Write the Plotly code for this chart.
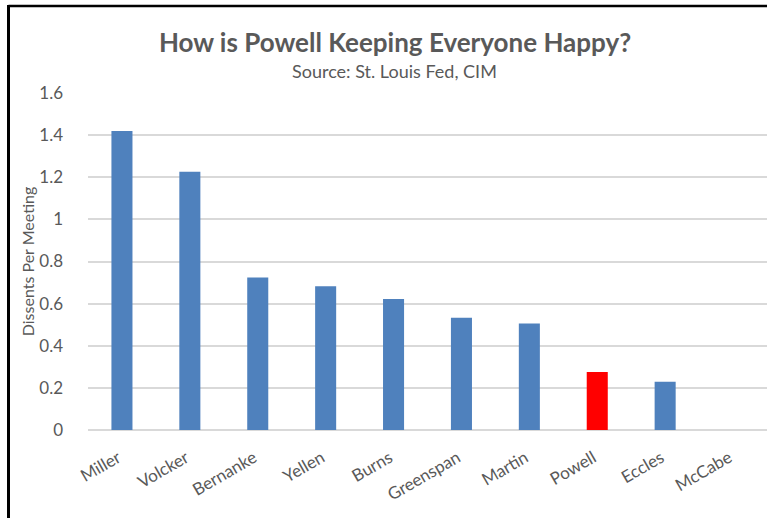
import plotly.graph_objects as go

chairs = ["Miller", "Volcker", "Bernanke", "Yellen", "Burns", "Greenspan",
          "Martin", "Powell", "Eccles", "McCabe"]
dissents = [1.42, 1.226, 0.724, 0.683, 0.622, 0.533, 0.506, 0.275, 0.229, 0.0]
highlight = "Powell"
y_ticks = [0, 0.2, 0.4, 0.6, 0.8, 1, 1.2, 1.4, 1.6]
y_tick_text = ["0", "0.2", "0.4", "0.6", "0.8", "1", "1.2", "1.4", "1.6"]

BLUE = "#4F81BD"
RED = "#FF0000"
GRAY = "#595959"
FONT = "Lato"

colors = [RED if c == highlight else BLUE for c in chairs]

W, H = 767, 518
ML, MR, MT, MB = 88, 0, 93, 88
pw = W - ML - MR
ph = H - MT - MB

def px_x(x):
    return (x - ML) / pw

def px_y(y):
    return (H - MB - y) / ph

fig = go.Figure(go.Bar(
    x=chairs, y=dissents,
    marker=dict(color=colors, line=dict(width=0)),
    width=0.31,
))

fig.update_layout(
    width=W, height=H,
    margin=dict(l=ML, r=MR, t=MT, b=MB),
    paper_bgcolor="white", plot_bgcolor="white",
    showlegend=False,
    font=dict(family=FONT, color=GRAY),
    title=dict(
        text="<b>How is Powell Keeping Everyone Happy?</b>",
        x=px_x(395), xref="paper", xanchor="center",
        y=1 - 43 / H, yref="container", yanchor="middle",
        font=dict(family=FONT, size=26, color=GRAY),
    ),
    annotations=[dict(
        text="Source: St. Louis Fed, CIM",
        xref="paper", yref="paper",
        x=px_x(394), y=px_y(71), xanchor="center", yanchor="middle",
        showarrow=False, font=dict(family=FONT, size=18, color=GRAY),
    )],
    xaxis=dict(
        tickangle=-30, tickfont=dict(family=FONT, size=17, color=GRAY),
        showgrid=False, showline=False, ticks="",
        ticklabelshift=-4, ticklabelstandoff=14,
    ),
    yaxis=dict(
        range=[0, 1.6], tickvals=y_ticks, ticktext=y_tick_text,
        tickfont=dict(family=FONT, size=17, color=GRAY),
        gridcolor="#D9D9D9", gridwidth=1.5,
        zeroline=True, zerolinecolor="#D9D9D9", zerolinewidth=1.5,
        showline=False, ticks="", ticklabelstandoff=24,
        title=dict(text="Dissents Per Meeting", standoff=0,
                   font=dict(family=FONT, size=16, color=GRAY)),
    ),
    shapes=[
        dict(type="line", xref="paper", yref="paper",
             x0=px_x(8.5), x1=px_x(W + 2), y0=px_y(6), y1=px_y(6),
             line=dict(color="black", width=2.5)),
        dict(type="line", xref="paper", yref="paper",
             x0=px_x(8.5), x1=px_x(8.5), y0=px_y(5), y1=px_y(H + 2),
             line=dict(color="black", width=3)),
    ],
)

fig.write_html("out.html")
